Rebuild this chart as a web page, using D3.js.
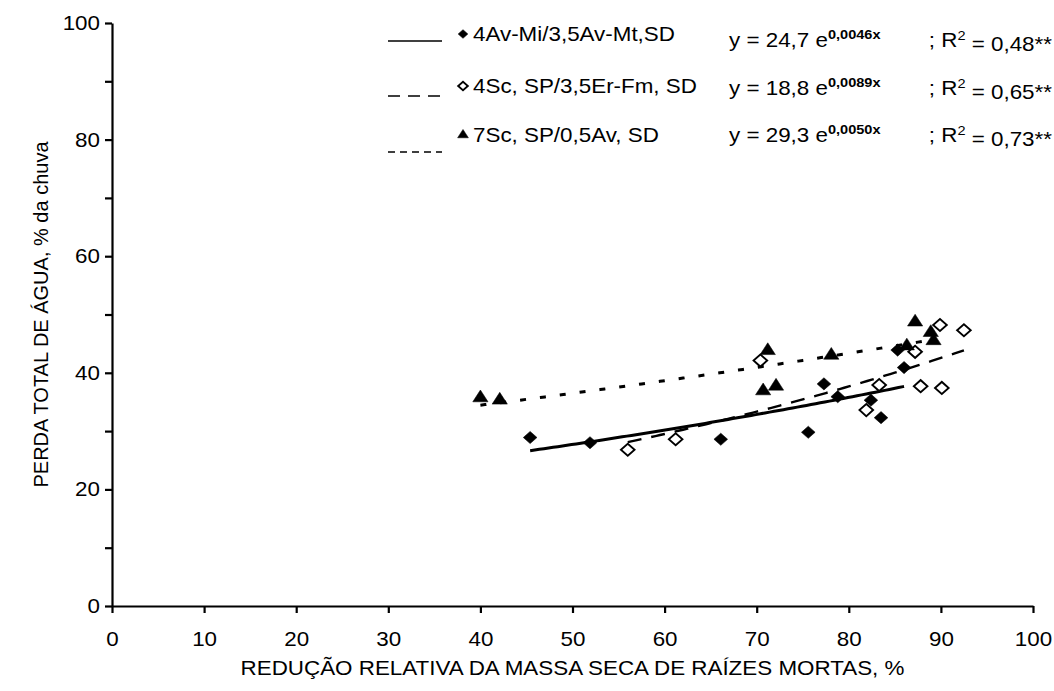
<!DOCTYPE html>
<html>
<head>
<meta charset="utf-8">
<script src="https://cdn.jsdelivr.net/npm/d3@7"></script>
<style>
  body { margin: 0; background: #fff; }
  text { font-family: "Liberation Sans", Arial, sans-serif; fill: #000; }
</style>
</head>
<body>
<svg width="1054" height="691"></svg>
<script>
// series labels and the equations printed beside them
var seriesNames = ["4Av-Mi/3,5Av-Mt,SD", "4Sc, SP/3,5Er-Fm, SD", "7Sc, SP/0,5Av, SD"];
var eqCoef = ["24,7", "18,8", "29,3"];
var eqExp  = ["0,0046x", "0,0089x", "0,0050x"];
var eqR2   = ["0,48**", "0,65**", "0,73**"];

// filled diamonds
var xFilled = [45.4, 51.9, 66.1, 75.6, 77.3, 78.8, 82.4, 83.5, 85.3, 86.0];
var yFilled = [28.9, 28.0, 28.6, 29.8, 38.1, 35.9, 35.3, 32.3, 43.9, 40.9];
// open diamonds
var xOpen = [56.0, 61.2, 70.4, 81.9, 83.3, 87.2, 87.8, 89.9, 90.1, 92.5];
var yOpen = [26.8, 28.6, 42.1, 33.6, 37.9, 43.6, 37.7, 48.2, 37.4, 47.3];
// triangles
var xTri = [40.0, 42.1, 70.7, 72.1, 71.2, 78.1, 86.3, 87.2, 88.9, 89.2];
var yTri = [35.7, 35.3, 36.9, 37.7, 43.8, 43.0, 44.6, 48.7, 46.9, 45.5];

var xTicks = d3.range(0, 101, 10);
var yTicks = d3.range(0, 101, 10);

var svg = d3.select("svg"),
    margin = {top: 23, right: 21, bottom: 85, left: 112},
    width  = +svg.attr("width") - margin.left - margin.right,
    height = +svg.attr("height") - margin.top - margin.bottom;

var FS = 20, SX = 1.12;   // font size, horizontal stretch of the original picture

var x = d3.scaleLinear().domain([0, 100]).range([0, width]),
    y = d3.scaleLinear().domain([0, 100]).range([height, 0]);

var g = svg.append("g")
    .attr("transform", "translate(" + margin.left + "," + margin.top + ")");

var series = [
  {xs: xFilled, ys: yFilled, shape: "diamond", fill: "#000", dash: null, width: 3},
  {xs: xOpen,   ys: yOpen,   shape: "diamond", fill: "#fff", dash: "14,10", width: 2.4},
  {xs: xTri,    ys: yTri,    shape: "triangle", fill: "#000", dash: "6,14", width: 3}
];
var legendDash = [null, "12,8", "7,5"];

// exponential least squares fit (like a spreadsheet trendline)
function expFit(xs, ys) {
  var n = xs.length,
      mx = d3.mean(xs),
      my = d3.mean(ys, function(v) { return Math.log(v); }),
      sxy = 0, sxx = 0;
  for (var i = 0; i < n; i++) {
    sxy += (xs[i] - mx) * (Math.log(ys[i]) - my);
    sxx += (xs[i] - mx) * (xs[i] - mx);
  }
  var b = sxy / sxx;
  return {a: Math.exp(my - b * mx), b: b};
}

var line = d3.line()
    .x(function(d) { return x(d[0]); })
    .y(function(d) { return y(d[1]); });

// trend lines
series.forEach(function(s) {
  var f = expFit(s.xs, s.ys),
      ext = d3.extent(s.xs),
      pts = d3.range(ext[0], ext[1], 0.5).concat([ext[1]])
              .map(function(v) { return [v, f.a * Math.exp(f.b * v)]; });
  g.append("path")
    .datum(pts)
    .attr("d", line)
    .attr("fill", "none")
    .attr("stroke", "#000")
    .attr("stroke-width", s.width)
    .attr("stroke-dasharray", s.dash);
});

function marker(sel, shape, fill, scale) {
  if (shape === "diamond") {
    sel.append("path")
      .attr("d", d3.symbol(d3.symbolSquare, 74 * scale)())
      .attr("transform", "scale(" + SX + ",1) rotate(45)")
      .attr("fill", fill)
      .attr("stroke", "#000")
      .attr("stroke-width", fill === "#fff" ? 1.8 : 0.5);
  } else {
    sel.append("path")
      .attr("d", d3.symbol(d3.symbolTriangle, 80 * scale)())
      .attr("transform", "scale(" + SX + ",1)")
      .attr("fill", fill)
      .attr("stroke", "#000")
      .attr("stroke-width", 0.5);
  }
}

// points
series.forEach(function(s) {
  s.xs.forEach(function(v, i) {
    var m = g.append("g")
      .attr("transform", "translate(" + x(v) + "," + y(s.ys[i]) + ")");
    marker(m, s.shape, s.fill, 1);
  });
});

// axes
var xAxis = d3.axisBottom(x).tickValues(xTicks).tickSize(7).tickSizeOuter(0).tickPadding(19);
var yAxis = d3.axisLeft(y).tickValues(yTicks).tickSize(7).tickSizeOuter(0).tickPadding(5)
    .tickFormat(function(d) { return d % 20 === 0 ? d : ""; });

var gx = g.append("g").attr("transform", "translate(0," + height + ")").call(xAxis);
var gy = g.append("g").call(yAxis);
[gx, gy].forEach(function(a) {
  a.select(".domain").attr("stroke-width", 2.2);
  a.selectAll(".tick line").attr("stroke-width", 2.2);
  a.selectAll(".tick text")
    .attr("font-size", FS)
    .attr("font-family", "Liberation Sans, Arial, sans-serif")
    .attr("transform", "scale(" + SX + ",1)");
});
gy.selectAll(".tick text").attr("x", -12 / SX);

svg.append("text")
  .attr("transform", "translate(" + (margin.left + width / 2) + ",675) scale(" + SX + ",1)")
  .attr("text-anchor", "middle")
  .attr("font-size", FS)
  .text("REDUÇÃO RELATIVA DA MASSA SECA DE RAÍZES MORTAS, %");

svg.append("text")
  .attr("transform", "translate(48," + (margin.top + height / 2) + ") rotate(-90)")
  .attr("text-anchor", "middle")
  .attr("font-size", FS)
  .text("PERDA TOTAL DE ÁGUA, % da chuva");

// legend
var rowY = [34, 86, 135];
var eqY = [40, 88, 135];
var lineY = [41, 96, 152];
seriesNames.forEach(function(name, i) {
  var s = series[i];
  svg.append("line")
    .attr("x1", 388).attr("x2", 442)
    .attr("y1", lineY[i]).attr("y2", lineY[i])
    .attr("stroke", "#000")
    .attr("stroke-width", 1.6)
    .attr("stroke-dasharray", legendDash[i]);
  var m = svg.append("g").attr("transform", "translate(463," + rowY[i] + ")");
  marker(m, s.shape, s.fill, 0.5);
  svg.append("text")
    .attr("transform", "translate(473," + rowY[i] + ") scale(" + SX + ",1)")
    .attr("dy", "0.35em")
    .attr("font-size", FS)
    .text(name);

  var t = svg.append("text")
    .attr("transform", "translate(729," + eqY[i] + ") scale(" + SX + ",1)")
    .attr("dy", "0.35em")
    .attr("font-size", FS);
  t.append("tspan").text("y = " + eqCoef[i] + " e");
  t.append("tspan").attr("dy", "-0.6em").attr("font-size", 13).attr("font-weight", "bold").text(eqExp[i]);

  var r = svg.append("text")
    .attr("transform", "translate(1052," + eqY[i] + ") scale(" + SX + ",1)")
    .attr("dy", "0.35em")
    .attr("text-anchor", "end")
    .attr("font-size", FS);
  r.append("tspan").text("; R");
  r.append("tspan").attr("dy", "-0.55em").attr("font-size", 13).text("2");
  r.append("tspan").attr("dy", "0.55em").text(" = " + eqR2[i]);
});
</script>
</body>
</html>
